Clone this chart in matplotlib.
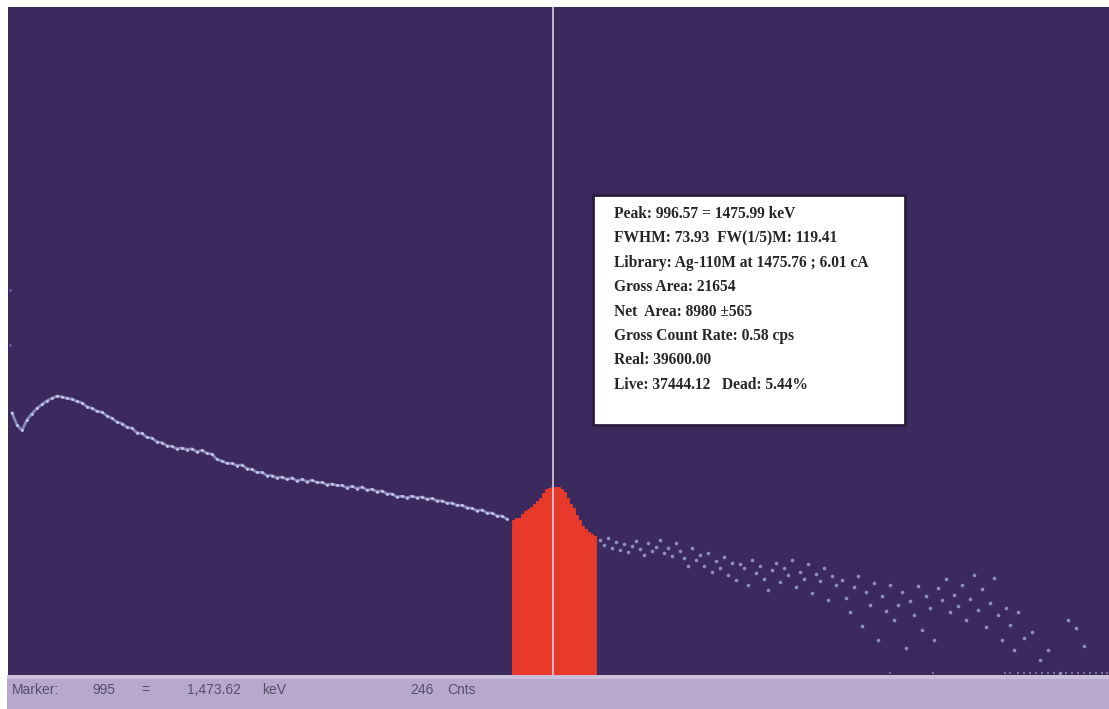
import numpy as np
import matplotlib
matplotlib.use("Agg")
import matplotlib.pyplot as plt
from matplotlib.patches import Rectangle

# ---- spectrum data (channel, counts) ----
# continuum below the peak, sampled every 5 channels starting at channel 454
cont_start, cont_step = 454, 5
cont_counts = [343, 327, 320, 334, 342, 349, 354, 359, 362, 365,
               364, 362, 361, 358, 356, 351, 349, 345, 344, 339,
               336, 331, 329, 324, 323, 317, 316, 311, 310, 305,
               304, 300, 299, 296, 297, 295, 296, 292, 294, 290,
               289, 282, 280, 277, 277, 274, 275, 270, 269, 265,
               265, 261, 261, 258, 259, 256, 258, 254, 256, 253,
               255, 252, 252, 249, 250, 248, 248, 245, 247, 244,
               246, 242, 243, 240, 241, 237, 237, 233, 234, 232,
               234, 232, 233, 230, 231, 228, 228, 225, 225, 222,
               222, 219, 218, 215, 216, 212, 212, 208, 208, 204]

# region of interest around the Ag-110M line, 3-channel bins from channel 954
roi_start, roi_step = 954, 3
roi_counts = [203, 205, 206, 210, 214, 217, 220, 224, 228, 232,
              238, 243, 245, 246, 246, 246, 244, 240, 232, 224,
              219, 209, 203, 195, 191, 187, 185, 182]

# sparse high-energy tail
tail_channels = [1042, 1046, 1050, 1054, 1058, 1062, 1066, 1070, 1074, 1078,
                 1082, 1086, 1090, 1094, 1098, 1102, 1106, 1110, 1114, 1118,
                 1122, 1126, 1130,
                 1134, 1138, 1142, 1146, 1150, 1154, 1158, 1162, 1166, 1170,
                 1174, 1178, 1182, 1186, 1190, 1194, 1198, 1202, 1206, 1210,
                 1214, 1218, 1222, 1226, 1230, 1234, 1238, 1242, 1246, 1250,
                 1254, 1258, 1262, 1266, 1270, 1274, 1278,
                 1284, 1288, 1292, 1296, 1300, 1304, 1308, 1312, 1316, 1320,
                 1324, 1328, 1332, 1336, 1340, 1344, 1348, 1352, 1356, 1360,
                 1364, 1368, 1372, 1376,
                 1380, 1384, 1388, 1392, 1396, 1400, 1404, 1408, 1412, 1416,
                 1420, 1424, 1428, 1432, 1436, 1440, 1444, 1448, 1452, 1456,
                 1460,
                 1466, 1474, 1482, 1490, 1502, 1510, 1518, 1526]
tail_counts = [177, 170, 179, 166, 174, 164, 171, 161, 169, 175,
               165, 157, 173, 162, 168, 177, 160, 166, 156, 173,
               162, 153, 143,
               166, 151, 157, 143, 160, 135, 149, 140, 155, 131,
               147, 124, 145, 140, 118, 151, 134, 143, 126, 111,
               137, 147, 122, 140, 131, 151, 115, 135, 126, 145,
               107, 132, 123, 140, 98, 130, 118,
               124, 101, 82, 115, 130, 64, 109, 92, 120, 46,
               103, 84, 118, 72, 92, 109, 35, 97, 79, 117,
               59, 103, 88, 46,
               114, 98, 126, 82, 105, 90, 118, 72, 100, 131,
               85, 113, 63, 94, 127, 79, 46, 88, 65, 33,
               82,
               48, 56, 20, 33, 3, 72, 62, 38]
zero_channels = [1332, 1375, 1447, 1452, 1460, 1466, 1472, 1478, 1484, 1490,
                 1496, 1502, 1508, 1514, 1520, 1526, 1532, 1538, 1544, 1549]
edge_channels = [452, 452]
edge_counts = [504, 432]

marker_channel = 995
x_range = (450, 1551)
y_range = (0, 874)

info_lines = [
    "Peak: 996.57 = 1475.99 keV",
    "FWHM: 73.93  FW(1/5)M: 119.41",
    "Library: Ag-110M at 1475.76 ; 6.01 cA",
    "Gross Area: 21654",
    "Net  Area: 8980 \u00b1565",
    "Gross Count Rate: 0.58 cps",
    "Real: 39600.00",
    "Live: 37444.12   Dead: 5.44%",
]

status_items = [("Marker:", 12), ("995", 92), ("=", 141), ("1,473.62", 187),
                ("keV", 262), ("246", 410), ("Cnts", 447)]

# ---- figure ----
W, H = 1109, 709
fig = plt.figure(figsize=(W / 100, H / 100), dpi=100)
fig.patch.set_facecolor("white")

bg = "#3c2a5e"
dot = "#bcc4f0"
red = "#e8392b"

ax = fig.add_axes([8 / W, (H - 675) / H, (W - 8) / W, 668 / H])
ax.set_facecolor(bg)
ax.set_xlim(*x_range)
ax.set_ylim(*y_range)
for s in ax.spines.values():
    s.set_visible(False)
ax.set_xticks([])
ax.set_yticks([])

# continuum
cont_ch = cont_start + cont_step * np.arange(len(cont_counts))
ax.plot(cont_ch, cont_counts, color=dot, lw=2.0, alpha=0.6, zorder=3,
        solid_joinstyle="round")
ax.plot(cont_ch, cont_counts, ls="none", marker="o", ms=2.0, mew=0,
        color="#d0d6f6", alpha=0.9, zorder=3)

# region of interest
roi_ch = roi_start + roi_step * np.arange(len(roi_counts))
ax.bar(roi_ch, roi_counts, width=roi_step, align="edge", color=red,
       edgecolor=red, linewidth=0.6, zorder=4)

# tail
ax.plot(tail_channels, tail_counts, ls="none", marker="o", ms=2.6, mew=0,
        color="#a4a6da", alpha=0.8, zorder=3)
ax.plot(zero_channels, [2] * len(zero_channels), ls="none", marker="s", ms=1.6,
        mew=0, color="#8e90c4", alpha=0.7, zorder=3)
ax.plot(edge_channels, edge_counts, ls="none", marker="o", ms=2.2, mew=0,
        color="#7f7cb6", alpha=0.6, zorder=3)

# marker line
ax.axvline(marker_channel, color="#d4c4d2", lw=1.4, alpha=0.9, zorder=5)

# info box
bx0, by0, bx1, by1 = 593, 195, 905, 425
box = Rectangle((bx0 / W, 1 - by1 / H), (bx1 - bx0) / W, (by1 - by0) / H,
                transform=fig.transFigure, facecolor="white",
                edgecolor="#2a1e3e", linewidth=2.0, zorder=10)
fig.patches.append(box)
for i, line in enumerate(info_lines):
    fig.text(614 / W, 1 - (214 + 24.4 * i) / H, line, ha="left", va="center",
             fontsize=11.2, family="Liberation Serif", weight="bold",
             color="#262626", zorder=11)

# status bar
bar = Rectangle((7 / W, 0), (W - 7) / W, (H - 675) / H,
                transform=fig.transFigure, facecolor="#b8a8ce",
                edgecolor="none", zorder=10)
fig.patches.append(bar)
strip = Rectangle((7 / W, (H - 679) / H), (W - 7) / W, 4 / H,
                  transform=fig.transFigure, facecolor="#cbbfdc",
                  edgecolor="none", zorder=10)
fig.patches.append(strip)
for label, px in status_items:
    fig.text(px / W, 1 - 690 / H, label, ha="left", va="center",
             fontsize=10, family="Liberation Sans", color="#55506a", zorder=11)

fig.savefig("out.png", dpi=100, facecolor=fig.get_facecolor())
